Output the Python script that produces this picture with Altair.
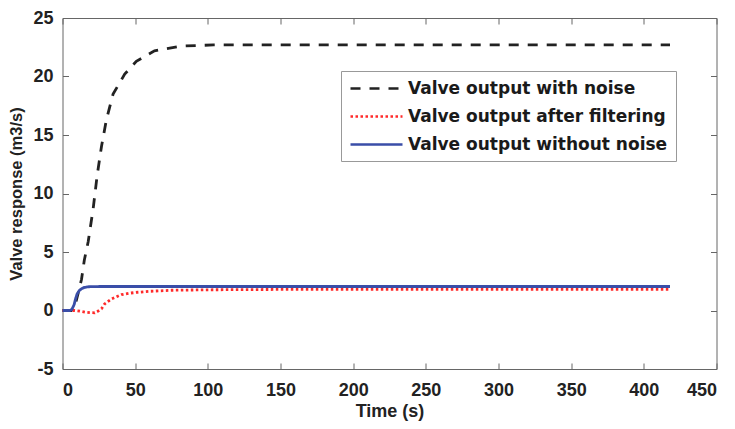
import altair as alt
import pandas as pd

series_names = ["Valve output with noise", "Valve output after filtering", "Valve output without noise"]
series_colors = ["#222222", "#ff2a2a", "#3a4ea8"]
series_dash = [[10, 9], [2.5, 2.5], [1, 0]]

t_noise = [0, 6, 9, 11, 13.1, 15, 17.7, 21.1, 23.8, 26.8, 30.2, 34.8, 42.8, 50.8, 63.3, 81.6, 104, 150, 418]
v_noise = [0, 0, 0.6, 1.6, 2.67, 4.3, 5.9, 8.7, 11.5, 14.0, 16.3, 18.5, 20.2, 21.3, 22.2, 22.6, 22.7, 22.7, 22.7]

t_filt = [0, 8.5, 12, 15.4, 19, 22.2, 24.5, 26.8, 29, 33.7, 40.5, 46, 52, 60, 75, 100, 150, 418]
v_filt = [0, 0, -0.06, -0.14, -0.18, -0.2, -0.05, 0.14, 0.56, 0.98, 1.35, 1.48, 1.56, 1.64, 1.73, 1.77, 1.8, 1.8]

t_clean = [0, 5, 6.5, 8, 9, 10, 11.5, 13, 15, 18, 25, 418]
v_clean = [0, 0, 0.1, 0.5, 1.0, 1.4, 1.7, 1.85, 1.97, 2.03, 2.05, 2.05]

x_ticks = [0, 50, 100, 150, 200, 250, 300, 350, 400, 450]
y_ticks = [-5, 0, 5, 10, 15, 20, 25]

rows = []
for name, ts, vs in [(series_names[0], t_noise, v_noise),
                     (series_names[1], t_filt, v_filt),
                     (series_names[2], t_clean, v_clean)]:
    for t, v in zip(ts, vs):
        rows.append({"t": t, "v": v, "series": name})
df = pd.DataFrame(rows)

tick_font = "Liberation Sans, Arial"
xs = alt.Scale(domain=[0, 450], nice=False, zero=False)
ys = alt.Scale(domain=[-5, 25], nice=False, zero=False)

lines = alt.Chart(df).mark_line(strokeWidth=2.8).encode(
    x=alt.X("t:Q", scale=xs, axis=alt.Axis(
        values=x_ticks, title="Time (s)", ticks=False, domain=False, grid=False,
        labelExpr="'' + datum.value",
        labelFont=tick_font, labelFontSize=18, labelFontWeight="bold", labelColor="#222",
        labelPadding=12, titleFont=tick_font, titleFontSize=18, titleFontWeight="bold",
        titleColor="#222", titlePadding=3, orient="bottom")),
    y=alt.Y("v:Q", scale=ys, axis=alt.Axis(
        values=y_ticks, title="Valve response (m3/s)", ticks=False, domain=False, grid=False,
        labelExpr="'' + datum.value",
        labelFont=tick_font, labelFontSize=18, labelFontWeight="bold", labelColor="#222",
        labelPadding=9.5, titleFont=tick_font, titleFontSize=16.5, titleFontWeight="bold",
        titleColor="#222", titlePadding=8, orient="left")),
    color=alt.Color("series:N", sort=series_names,
                    scale=alt.Scale(domain=series_names, range=series_colors),
                    legend=alt.Legend(title=None, orient="none", legendX=278.5, legendY=53,
                                      symbolType="M-5.5,0H1", symbolSize=256, symbolStrokeWidth=2.5,
                                      symbolOffset=36,
                                      labelFont="DejaVu Sans", labelFontSize=17,
                                      labelFontWeight="bold", labelColor="#1a1a1a", labelOffset=4,
                                      rowPadding=10, padding=8, strokeColor="#999999",
                                      fillColor="white", labelLimit=400)),
    strokeDash=alt.StrokeDash("series:N", sort=series_names,
                              scale=alt.Scale(domain=series_names, range=series_dash),
                              legend=None),
    order=alt.Order("t:Q"),
)

def tick_layer(xorient, yorient):
    return alt.Chart(df).mark_line(opacity=0).encode(
        x=alt.X("t:Q", scale=xs, axis=alt.Axis(
            values=x_ticks, orient=xorient, labels=False, title=None, domain=False, grid=False,
            ticks=True, tickSize=6, offset=-6, tickColor="#666", tickWidth=1)),
        y=alt.Y("v:Q", scale=ys, axis=alt.Axis(
            values=y_ticks, orient=yorient, labels=False, title=None, domain=False, grid=False,
            ticks=True, tickSize=6, offset=-6, tickColor="#666", tickWidth=1)),
        detail="series:N",
    )

chart = alt.layer(lines, tick_layer("bottom", "left"), tick_layer("top", "right")).resolve_axis(
    x="independent", y="independent"
).properties(
    width=654, height=351,
    autosize=alt.AutoSizeParams(type="none"),
    padding={"left": 54.5, "top": 10, "right": 10.5, "bottom": 52},
).configure_view(stroke="#666666", strokeWidth=1)

chart.save("out.html", embed_options={"renderer": "svg", "actions": False})
